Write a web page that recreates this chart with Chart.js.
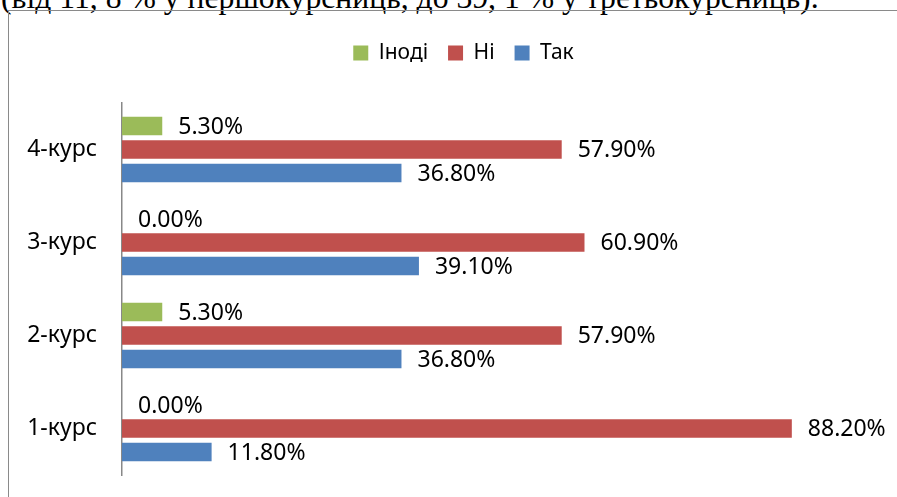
<!DOCTYPE html>
<html>
<head>
<meta charset="utf-8">
<script src="https://cdn.jsdelivr.net/npm/chart.js@4.4.1/dist/chart.umd.min.js"></script>
<style>
html, body { margin: 0; padding: 0; width: 897px; height: 497px; overflow: hidden; background: #fff; }
#caption { position: absolute; left: 1px; top: -18px; font: 31.7px/32px "Liberation Serif", "Times New Roman", serif; white-space: nowrap; color: #000; }
#frame { position: absolute; left: 8px; top: 10px; width: 1000px; height: 600px; border: 1px solid #8a8a8a; }
#wrap { position: absolute; left: 0; top: 0; width: 927px; height: 497px; }
</style>
</head>
<body>
<div id="caption">(від 11, 8 % у першокурсниць, до 39, 1 % у третьокурсниць).</div>
<div id="frame"></div>
<div id="wrap"><canvas id="chart"></canvas></div>
<script>
// data (percent)
const courses = ['4-курс', '3-курс', '2-курс', '1-курс'];
const sometimes = [5.3, 0, 5.3, 0];     // Іноді
const no = [57.9, 60.9, 57.9, 88.2];    // Ні
const yes = [36.8, 39.1, 36.8, 11.8];   // Так

const FONT = '"Noto Sans", "Open Sans", sans-serif';

// draws "57.90%" style labels just right of each bar end
const valueLabels = {
  id: 'valueLabels',
  afterDatasetsDraw(chart) {
    const ctx = chart.ctx;
    ctx.save();
    ctx.font = '23px ' + FONT;
    ctx.fillStyle = '#000';
    ctx.textAlign = 'left';
    ctx.textBaseline = 'middle';
    chart.data.datasets.forEach((ds, i) => {
      chart.getDatasetMeta(i).data.forEach((bar, j) => {
        ctx.fillText(ds.data[j].toFixed(2) + '%', bar.x + 16, bar.y + 1);
      });
    });
    ctx.restore();
  }
};

new Chart(document.getElementById('chart'), {
  type: 'bar',
  data: {
    labels: courses,
    datasets: [
      { label: 'Іноді', data: sometimes, backgroundColor: '#9bbb59' },
      { label: 'Ні', data: no, backgroundColor: '#c0504d' },
      { label: 'Так', data: yes, backgroundColor: '#4f81bd' }
    ]
  },
  options: {
    indexAxis: 'y',
    responsive: true,
    maintainAspectRatio: false,
    animation: false,
    categoryPercentage: 0.758,
    barPercentage: 0.78,
    layout: { padding: { top: 22.5, bottom: 22, left: 0, right: 0 } },
    scales: {
      x: {
        position: 'top',
        min: 0,
        max: 106,
        ticks: { display: false },
        grid: { display: false, drawTicks: false },
        border: { display: false },
        afterFit(s) { s.height = 29.5; }
      },
      y: {
        // tick marks are hidden; their length only spaces the labels from the axis
        grid: { display: false, drawTicks: true, tickLength: 25 },
        border: { display: true, color: '#888', width: 1.5 },
        ticks: { color: '#000', padding: 0, font: { size: 23, family: FONT } },
        afterFit(s) { s.width = 122; }
      }
    },
    plugins: {
      legend: {
        labels: {
          boxWidth: 15,
          boxHeight: 15,
          padding: 20,
          color: '#000',
          font: { size: 21, family: FONT }
        }
      },
      tooltip: { enabled: false }
    }
  },
  plugins: [valueLabels]
});
</script>
</body>
</html>
